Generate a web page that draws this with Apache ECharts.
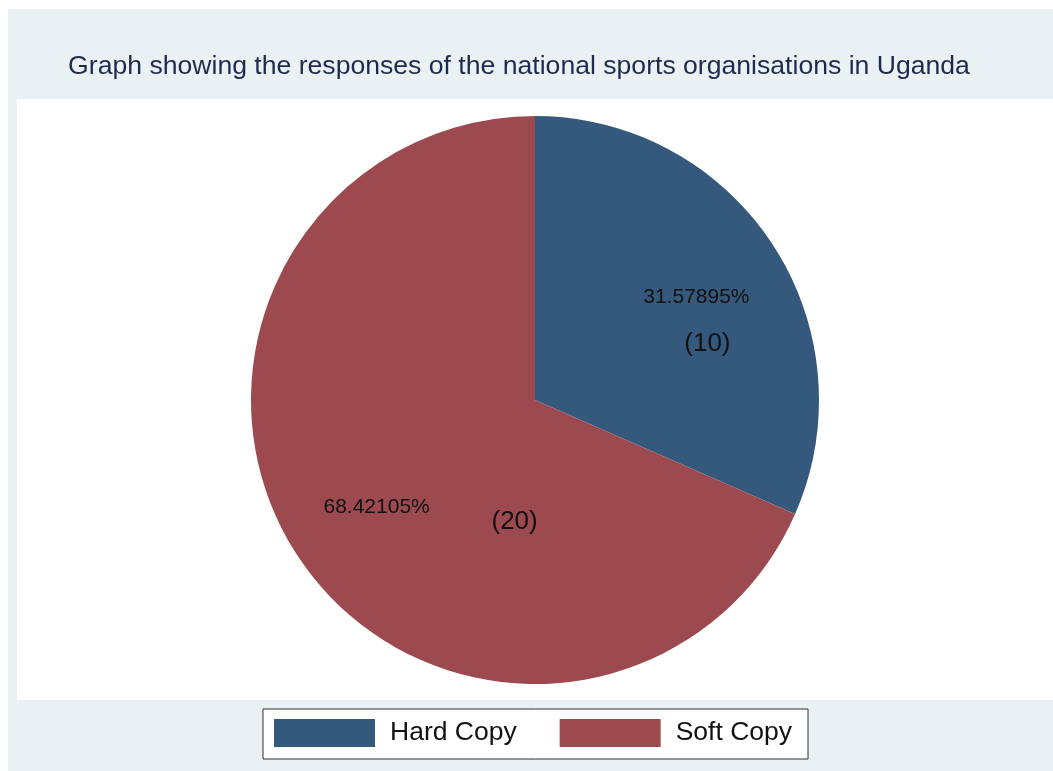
<!DOCTYPE html>
<html>
<head>
<meta charset="utf-8">
<script src="https://cdn.jsdelivr.net/npm/echarts@6/dist/echarts.min.js"></script>
<style>
  html, body { margin: 0; padding: 0; background: #ffffff; }
  #chart { width: 1053px; height: 771px; }
</style>
</head>
<body>
<div id="chart"></div>
<script>
// Response categories and their shares
var categories = ['Hard Copy', 'Soft Copy'];
var percents = [31.57895, 68.42105];
var counts = [10, 20];
var colors = ['#34597C', '#9C4A50'];

var titleText = 'Graph showing the responses of the national sports organisations in Uganda';

// label offsets from the default inside anchor of each slice
var pctOffsets = [[40, -23], [-37, 28]];
var cntOffsets = [[51, 23], [101, 43]];

var FONT = '"Liberation Sans", Arial, sans-serif';

var chart = echarts.init(document.getElementById('chart'), null, { renderer: 'canvas' });

var sliceData = categories.map(function (c, i) {
  return { name: c, value: percents[i], itemStyle: { color: colors[i] } };
});

var countData = categories.map(function (c, i) {
  return { name: '(' + counts[i] + ')', value: percents[i] };
});

chart.setOption({
  backgroundColor: '#ffffff',
  animation: false,
  graphic: [
    { type: 'rect', z: -10, shape: { x: 8, y: 9, width: 1045, height: 762 }, style: { fill: '#EAF1F3' }, silent: true },
    { type: 'rect', z: -9, shape: { x: 17, y: 99, width: 1036, height: 601 }, style: { fill: '#ffffff' }, silent: true }
  ],
  title: {
    text: titleText,
    left: 514,
    top: 48,
    textAlign: 'center',
    textStyle: { fontFamily: FONT, fontSize: 26.6, fontWeight: 'normal', color: '#1E2B4E' }
  },
  legend: {
    data: categories,
    left: 263,
    top: 709,
    orient: 'horizontal',
    icon: 'rect',
    itemWidth: 101,
    itemHeight: 28,
    itemGap: 43,
    padding: [10, 16, 12, 11],
    backgroundColor: '#ffffff',
    borderColor: '#333333',
    borderWidth: 1,
    selectedMode: false,
    textStyle: { fontFamily: FONT, fontSize: 26.5, color: '#111111', padding: [0, 0, 0, 10] }
  },
  series: [
    {
      type: 'pie',
      name: 'responses',
      center: [535, 400],
      radius: 284,
      startAngle: 90,
      clockwise: true,
      data: sliceData,
      itemStyle: { borderWidth: 0 },
      emphasis: { disabled: true },
      label: {
        show: true,
        position: 'inside',
        fontFamily: FONT,
        fontSize: 21,
        color: '#111111',
        formatter: function (p) { return percents[p.dataIndex].toFixed(5) + '%'; }
      },
      labelLine: { show: false },
      labelLayout: function (p) {
        var o = pctOffsets[p.dataIndex];
        return { dx: o[0], dy: o[1] };
      }
    },
    {
      type: 'pie',
      name: 'counts',
      center: [535, 400],
      radius: 284,
      startAngle: 90,
      clockwise: true,
      silent: true,
      data: countData,
      itemStyle: { color: 'rgba(0,0,0,0)', borderWidth: 0 },
      emphasis: { disabled: true },
      label: {
        show: true,
        position: 'inside',
        fontFamily: FONT,
        fontSize: 26,
        color: '#111111',
        formatter: '{b}'
      },
      labelLine: { show: false },
      labelLayout: function (p) {
        var o = cntOffsets[p.dataIndex];
        return { dx: o[0], dy: o[1] };
      }
    }
  ]
});
</script>
</body>
</html>
